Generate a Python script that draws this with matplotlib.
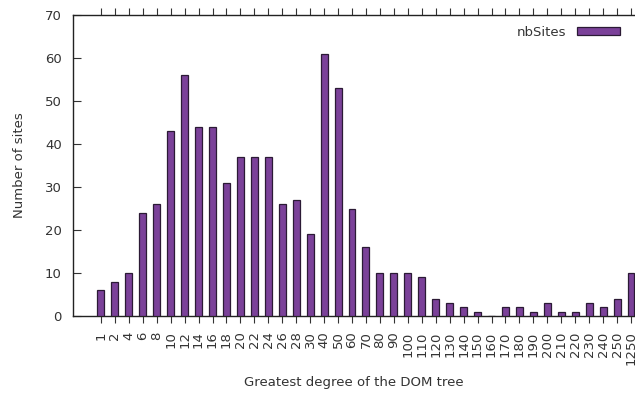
import matplotlib
matplotlib.use("Agg")
import matplotlib.pyplot as plt
import numpy as np

categories = ["1", "2", "4", "6", "8", "10", "12", "14", "16", "18", "20", "22", "24", "26", "28", "30",
              "40", "50", "60", "70", "80", "90", "100", "110", "120", "130", "140", "150", "160", "170",
              "180", "190", "200", "210", "220", "230", "240", "250", "1250"]
nb_sites = [6, 8, 10, 24, 26, 43, 56, 44, 44, 31, 37, 37, 37, 26, 27, 19,
            61, 53, 25, 16, 10, 10, 10, 9, 4, 3, 2, 1, 0, 2,
            2, 1, 3, 1, 1, 3, 2, 4, 10]
y_ticks = [0, 10, 20, 30, 40, 50, 60, 70]

plt.rcParams['font.family'] = ['DejaVu Sans']
fig = plt.figure(figsize=(6.35, 4.01), dpi=100)
W, H = 635, 401
left, right, top, bottom = 73, 635, 15, 316
ax = fig.add_axes([left / W, 1 - bottom / H, (right - left) / W, (bottom - top) / H])

x = np.arange(len(categories))
ax.bar(x, nb_sites, width=0.5, color='#7b4199', edgecolor='#2b1a35', linewidth=0.9,
       label='nbSites', zorder=3)

ax.set_xlim(-2, -2 + (right - left) / 13.95)
ax.set_ylim(0, 70)
ax.set_yticks(y_ticks)
ax.set_xticks(x)
ax.set_xticklabels(categories, rotation=90, fontsize=9.5, color='#333333')
ax.tick_params(axis='x', direction='out', length=5, width=0.8, pad=6, top=True, labeltop=False,
               colors='#333333', labelcolor='#333333')
ax.tick_params(axis='y', direction='in', length=6, width=0.8, labelsize=9.5, pad=8,
               colors='#333333', labelcolor='#333333')
for s in ['left', 'bottom', 'top']:
    ax.spines[s].set_color('#222222')
    ax.spines[s].set_linewidth(1.0)
ax.spines['right'].set_visible(False)

ax.set_ylabel('Number of sites', fontsize=9.5, color='#333333', labelpad=14)
ax.set_xlabel('Greatest degree of the DOM tree', fontsize=9.5, color='#333333', labelpad=8)

leg = ax.legend(loc='upper right', frameon=False, markerfirst=False, fontsize=9.5,
                handlelength=3.3, handleheight=0.55, borderaxespad=0.3, bbox_to_anchor=(0.99, 0.995))
for t in leg.get_texts():
    t.set_color('#333333')

fig.savefig('out.png', dpi=100)
